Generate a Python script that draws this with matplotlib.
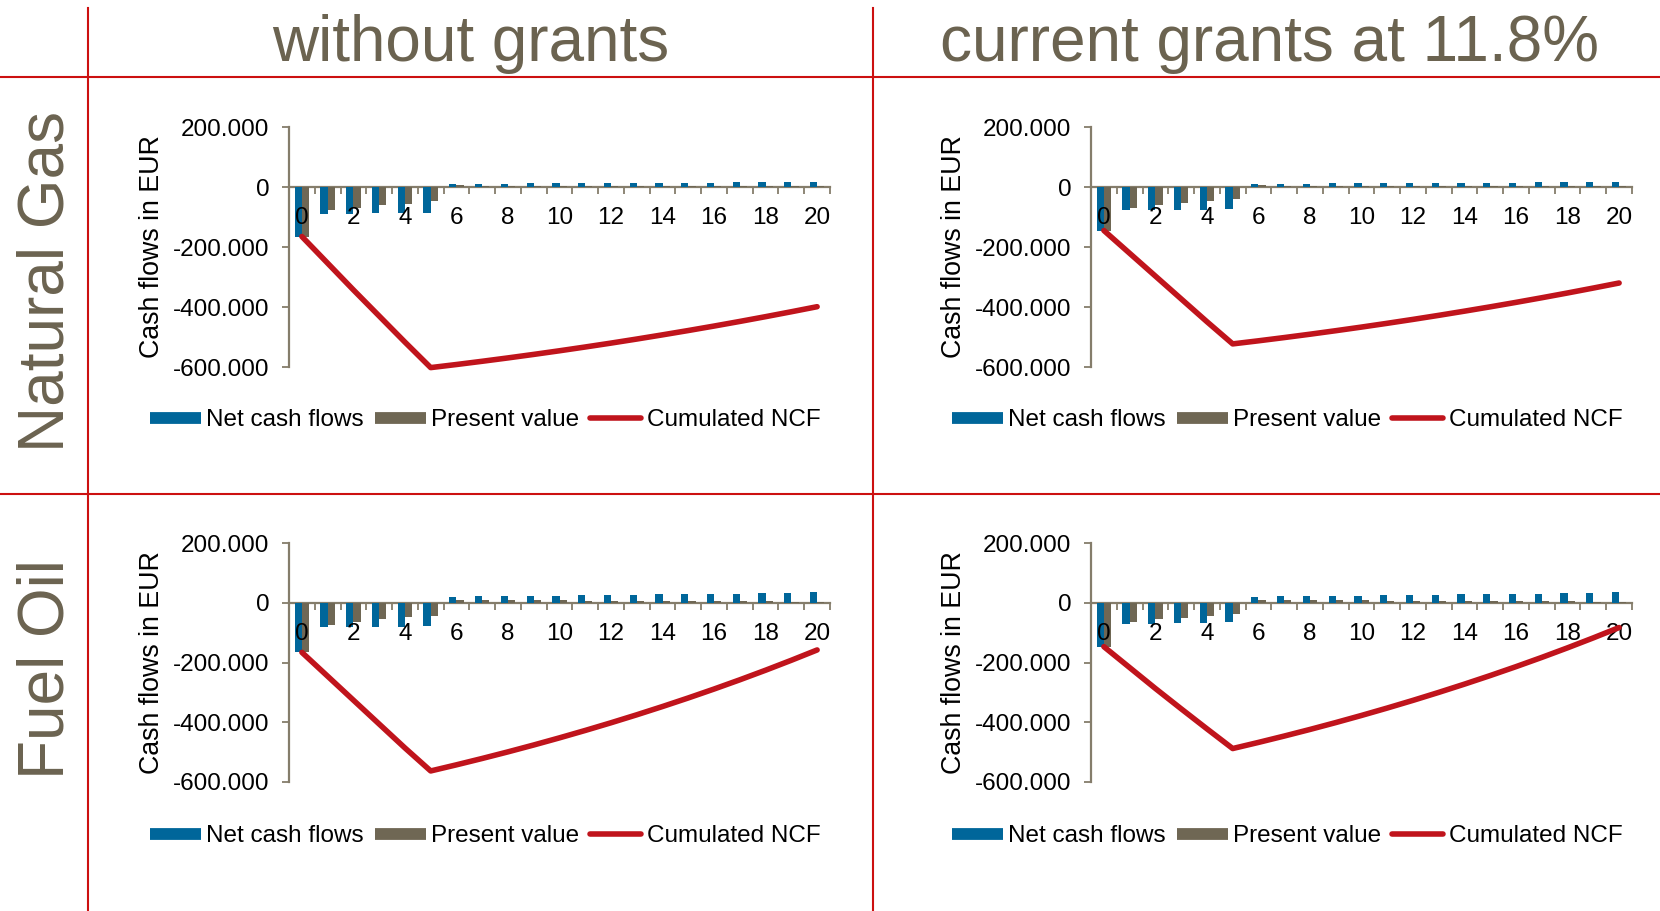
import matplotlib.pyplot as plt
import numpy as np
from matplotlib.lines import Line2D

plt.rcParams['font.family'] = ['Liberation Sans', 'DejaVu Sans']

# Project years 0..20
years = np.arange(21)

col_titles = ['without grants', 'current grants at 11.8%']
row_titles = ['Natural Gas', 'Fuel Oil']

# Net cash flows (EUR) per year
ncf_gas_nogrant = [-165000, -89000, -89000, -87000, -87000, -85000,
                   10300, 10800, 11200, 11700, 12100, 12600, 13000, 13500,
                   14000, 14400, 14900, 15400, 15900, 16400, 16800]
ncf_gas_grant = [-145000, -76000, -76000, -76000, -76000, -74000,
                 10300, 10800, 11200, 11700, 12100, 12600, 13000, 13500,
                 14000, 14400, 14900, 15400, 15900, 16400, 16800]
ncf_oil_nogrant = [-166000, -80000, -80000, -80000, -80000, -77000,
                   20500, 21300, 22100, 23000, 23900, 24800, 25700, 26700,
                   27700, 28700, 29800, 30900, 32100, 33300, 34500]
ncf_oil_grant = [-147000, -70000, -70000, -68000, -67000, -66000,
                 20500, 21300, 22100, 23000, 23900, 24800, 25700, 26700,
                 27700, 28700, 29800, 30900, 32100, 33300, 34500]

# Present values (EUR) per year
pv_gas_nogrant = [-165000, -78000, -70000, -61000, -56000, -48000,
                  5200, 4900, 4500, 4200, 3900, 3600, 3300, 3100,
                  2900, 2600, 2400, 2200, 2100, 1900, 1700]
pv_gas_grant = [-145000, -70000, -61000, -54000, -48000, -40000,
                5200, 4900, 4500, 4200, 3900, 3600, 3300, 3100,
                2900, 2600, 2400, 2200, 2100, 1900, 1700]
pv_oil_nogrant = [-166000, -73000, -65000, -56000, -48000, -43000,
                  10400, 9600, 8900, 8300, 7700, 7100, 6600, 6100,
                  5700, 5300, 4900, 4500, 4200, 3900, 3600]
pv_oil_grant = [-147000, -66000, -56000, -50000, -44000, -38000,
                10400, 9600, 8900, 8300, 7700, 7100, 6600, 6100,
                5700, 5300, 4900, 4500, 4200, 3900, 3600]

y_ticks = [-600000, -400000, -200000, 0, 200000]

BLUE = '#00669A'
BROWN = '#6F6754'
RED = '#C0141C'
GRID_RED = '#CC1010'
AXIS = '#857D6B'
TITLE = '#6B6350'

W, H = 1660, 911
fig = plt.figure(figsize=(W / 100, H / 100), dpi=100)


def px_box(left, top, right, bottom):
    return [left / W, 1 - bottom / H, (right - left) / W, (bottom - top) / H]


def draw_panel(rect, ncf, pv, legend_xy):
    ax = fig.add_axes(rect)
    ax.bar(years - 0.14, ncf, 0.28, color=BLUE, zorder=1)
    ax.bar(years + 0.14, pv, 0.28, color=BROWN, zorder=1)
    ax.plot(years, np.cumsum(ncf), color=RED, lw=4, solid_capstyle='round',
            zorder=4, clip_on=False)

    ax.set_xlim(-0.5, 20.5)
    ax.set_ylim(-600000, 200000)
    ax.set_yticks(y_ticks)
    ax.set_yticklabels([f'{v:,.0f}'.replace(',', '.') for v in y_ticks])
    ax.set_xticks(range(0, 21, 2))
    ax.set_xticks(np.arange(-0.5, 21, 1), minor=True)
    ax.tick_params(axis='x', which='major', length=0, pad=14.5, labelsize=17.5)
    ax.tick_params(axis='x', which='minor', length=5, width=1.3, color=AXIS)
    ax.tick_params(axis='y', length=5, width=1.3, color=AXIS, pad=9, labelsize=17.5)

    for s in ['top', 'right']:
        ax.spines[s].set_visible(False)
    ax.spines['bottom'].set_position(('data', 0))
    for s in ['left', 'bottom']:
        ax.spines[s].set_color(AXIS)
        ax.spines[s].set_linewidth(1.6)
        ax.spines[s].set_zorder(0.5)
    ax.patch.set_alpha(0)

    ax.set_ylabel('Cash flows in EUR', fontsize=19.3)
    ax.yaxis.set_label_coords(-0.229, 0.5)

    handles = [Line2D([0], [0], color=BLUE, lw=8.5, solid_capstyle='butt', label='Net cash flows'),
               Line2D([0], [0], color=BROWN, lw=8.5, solid_capstyle='butt', label='Present value'),
               Line2D([0], [0], color=RED, lw=4, solid_capstyle='round', label='Cumulated NCF')]
    fig.legend(handles=handles, loc='center', ncol=3, frameon=False, fontsize=17.5,
               bbox_to_anchor=(legend_xy[0] / W, 1 - legend_xy[1] / H),
               handlelength=2.1, handletextpad=0.22, columnspacing=0.45,
               borderaxespad=0, borderpad=0)
    return ax


draw_panel(px_box(289, 127, 830, 367), ncf_gas_nogrant, pv_gas_nogrant, (485, 420))
draw_panel(px_box(1091, 127, 1632, 367), ncf_gas_grant, pv_gas_grant, (1287, 420))
draw_panel(px_box(289, 543, 830, 782), ncf_oil_nogrant, pv_oil_nogrant, (485, 836))
draw_panel(px_box(1091, 543, 1632, 782), ncf_oil_grant, pv_oil_grant, (1287, 836))

# Table frame lines
for y in (77, 494):
    fig.add_artist(Line2D([0, 1], [1 - y / H] * 2, color=GRID_RED, lw=1.5))
for x in (88, 873):
    fig.add_artist(Line2D([x / W] * 2, [0, 1 - 8 / H], color=GRID_RED, lw=1.5))

# Column and row headings
fig.text(471 / W, 1 - 61 / H, col_titles[0], ha='center', va='baseline',
         fontsize=46, color=TITLE)
fig.text(1269 / W, 1 - 61 / H, col_titles[1], ha='center', va='baseline',
         fontsize=46, color=TITLE)
fig.text(47 / W, 1 - 281 / H, row_titles[0], ha='center', va='center',
         rotation=90, fontsize=46, color=TITLE)
fig.text(47 / W, 1 - 669 / H, row_titles[1], ha='center', va='center',
         rotation=90, fontsize=46, color=TITLE)

fig.savefig('out.png', dpi=100)
